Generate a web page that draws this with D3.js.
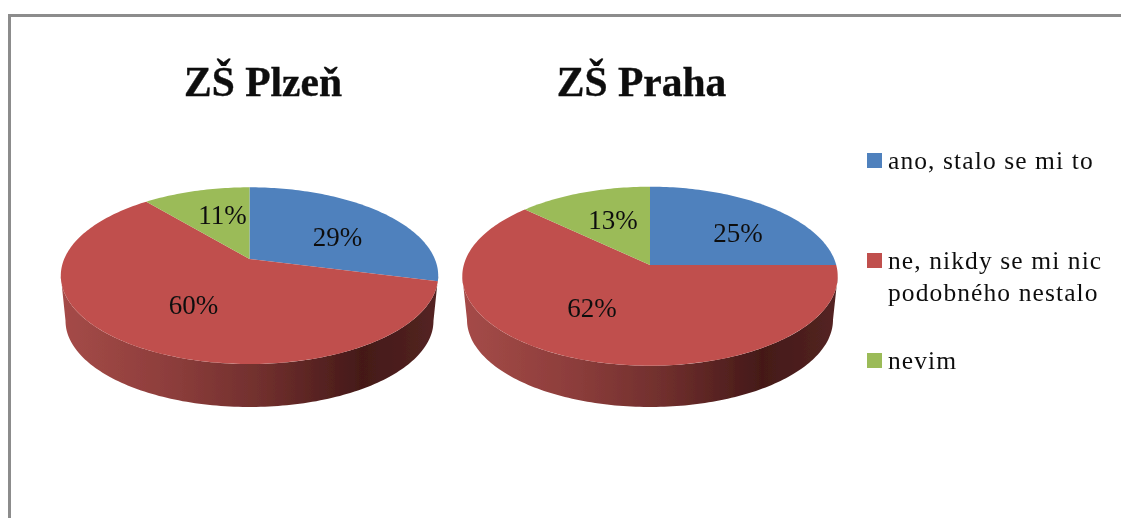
<!DOCTYPE html>
<html lang="en">
<head>
    <meta charset="UTF-8">
    <title>ZŠ Plzeň, ZŠ Praha</title>
    <script src="https://cdn.jsdelivr.net/npm/d3@7"></script>
    <style>
        html, body { margin: 0; padding: 0; background: #fff; }
        svg { display: block; }
        text { font-family: "Liberation Serif", serif; fill: #111; }
        .title { font-size: 41.5px; font-weight: bold; text-anchor: middle; stroke: #111; stroke-width: 0.4px; }
        .pct { font-size: 27px; text-anchor: middle; dominant-baseline: central; }
        .legend-text { font-size: 25.5px; letter-spacing: 1.1px; }
    </style>
</head>
<body>
<svg width="1121" height="518"></svg>

<script>
    // data
    var categories = ["ano, stalo se mi to", "ne, nikdy se mi nic|podobného nestalo", "nevim"];
    var colors = ["#4f81bd", "#c0504d", "#9bbb59"];
    var titles = ["ZŠ Plzeň", "ZŠ Praha"];
    var plzenValues = [29, 60, 11];
    var prahaValues = [25, 62, 13];

    // layout of the two tilted pies (apex, extents of the top face, bottom of the side wall)
    var pieLayouts = [
        {values: plzenValues, title: titles[0], titleX: 263, apexX: 249.5, apexY: 259, top: 187.3, bottom: 364, halfWidth: 188.7, floor: 407,
            labelOffsets: [[88, -22], [-56, 46], [-27, -44]]},
        {values: prahaValues, title: titles[1], titleX: 641.5, apexX: 650, apexY: 265, top: 186.7, bottom: 365.7, halfWidth: 187.7, floor: 407,
            labelOffsets: [[88, -32], [-58, 43], [-37, -45]]}
    ];

    var svg = d3.select("svg");
    var defs = svg.append("defs");

    var soft = defs.append("filter").attr("id", "soft");
    soft.append("feGaussianBlur").attr("stdDeviation", 0.45);

    var sideGradient = defs.append("linearGradient").attr("id", "side");
    sideGradient.selectAll("stop")
        .data([[0, "#a54b48"], [0.3, "#8c3d3b"], [0.55, "#6e2e2c"], [0.8, "#441918"], [1, "#542422"]])
        .enter().append("stop")
        .attr("offset", function (d) { return d[0]; })
        .attr("stop-color", function (d) { return d[1]; });

    var root = svg.append("g").attr("filter", "url(#soft)");

    // frame, open on the right and at the bottom
    root.append("path")
        .attr("d", "M9.5,530V15.5H1135")
        .attr("fill", "none")
        .attr("stroke", "#8c8c8c")
        .attr("stroke-width", 3);

    var pie = d3.pie().sort(null);
    var line = d3.line();

    pieLayouts.forEach(function (layout) {
        var up = layout.apexY - layout.top,
            down = layout.bottom - layout.apexY,
            k = (down - up) / (down + up),
            q = up * (1 + k),
            r = layout.halfWidth * Math.sqrt(1 - k * k);

        // circle angle to screen point, with perspective
        function project(angle, scale, shift) {
            var u = Math.sin(angle),
                v = Math.cos(angle),
                w = scale / (1 + k * v);
            return [layout.apexX + r * u * w, layout.apexY + shift - q * v * w];
        }

        function arcPoints(a0, a1, scale, shift) {
            var n = Math.ceil(Math.abs(a1 - a0) / 0.02);
            return d3.range(n + 1).map(function (i) {
                return project(a0 + (a1 - a0) * i / n, scale, shift);
            });
        }

        var g = root.append("g");

        // side wall
        var floorScale = 0.975,
            floorShift = layout.floor - layout.apexY - floorScale * down,
            edge = Math.acos(-k),
            wall = arcPoints(edge, 2 * Math.PI - edge, 1, 0)
                .concat(arcPoints(2 * Math.PI - edge, edge, floorScale, floorShift));

        g.append("path")
            .attr("d", line(wall) + "Z")
            .attr("fill", "url(#side)");

        // top face
        var slices = pie(layout.values);

        g.selectAll("path.slice")
            .data(slices)
            .enter().append("path")
            .attr("class", "slice")
            .attr("fill", function (d) { return colors[d.index]; })
            .attr("d", function (d) {
                return line([[layout.apexX, layout.apexY]].concat(arcPoints(d.startAngle, d.endAngle, 1, 0))) + "Z";
            });

        g.selectAll("text.pct")
            .data(slices)
            .enter().append("text")
            .attr("class", "pct")
            .attr("x", function (d) { return layout.apexX + layout.labelOffsets[d.index][0]; })
            .attr("y", function (d) { return layout.apexY + layout.labelOffsets[d.index][1]; })
            .text(function (d) { return d.value + "%"; });

        g.append("text")
            .attr("class", "title")
            .attr("x", layout.titleX)
            .attr("y", 96)
            .text(layout.title);
    });

    // legend
    var legendTops = [153, 253, 353];

    var legend = root.selectAll("g.legend")
        .data(categories)
        .enter().append("g")
        .attr("class", "legend")
        .attr("transform", function (d, i) { return "translate(867," + legendTops[i] + ")"; });

    legend.append("rect")
        .attr("width", 15)
        .attr("height", 15)
        .attr("fill", function (d, i) { return colors[i]; });

    legend.selectAll("text")
        .data(function (d) { return d.split("|"); })
        .enter().append("text")
        .attr("class", "legend-text")
        .attr("x", 21)
        .attr("y", function (d, i) { return 16 + i * 32; })
        .text(function (d) { return d; });
</script>
</body>
</html>
